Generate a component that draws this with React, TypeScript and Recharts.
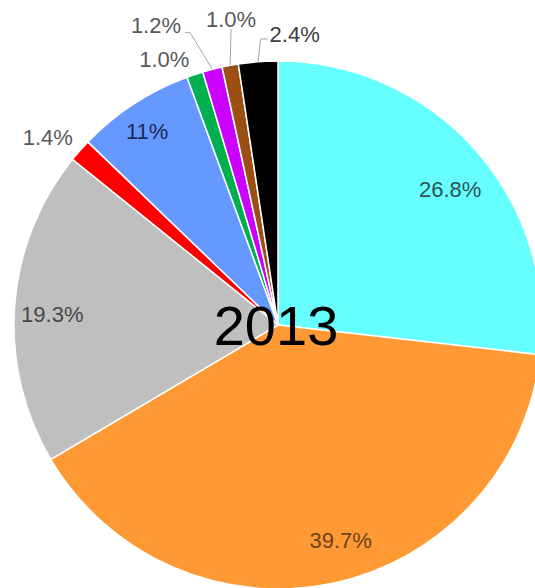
import { Pie, PieChart, Cell } from "recharts";

const SLICE_NAMES = ["Cyan", "Orange", "Grey", "Red", "Blue", "Green", "Magenta", "Brown", "Black"];
const SLICE_VALUES = [26.8, 39.7, 19.3, 1.4, 7.2, 1.0, 1.2, 1.0, 2.4];
const SLICE_LABELS = ["26.8%", "39.7%", "19.3%", "1.4%", "11%", "1.0%", "1.2%", "1.0%", "2.4%"];
const YEAR_LABEL = "2013";

const COLORS = ["#66FFFF", "#FF9933", "#BFBFBF", "#FF0000", "#6699FF", "#00B050", "#CC00FF", "#9C4F12", "#000000"];
const LABEL_COLORS = ["#2d5257", "#6a4420", "#474747", "#595959", "#1d2b55", "#595959", "#595959", "#595959", "#404040"];

// label placement: radius from centre, angle shift from the slice middle, optional leader elbows (relative to text centre)
const LABEL_LAYOUT: { r: number; shift: number; leader?: [number, number][] }[] = [
  { r: 219, shift: -3.6 },
  { r: 224, shift: 4.2 },
  { r: 226, shift: 1.4 },
  { r: 297, shift: 2.2 },
  { r: 234, shift: 0.9 },
  { r: 289, shift: 4.8 },
  { r: 323, shift: 7.8, leader: [[34, 6.5], [29, 6.5]] },
  { r: 309, shift: -1.7, leader: [[0, 9.5]] },
  { r: 291, shift: -7.6, leader: [[-34, 4.5], [-27, 4.5]] },
];

const FONT = "'Liberation Sans', Arial, sans-serif";
const RAD = Math.PI / 180;

const data = SLICE_NAMES.map((name, i) => ({ name, value: SLICE_VALUES[i] }));

const renderLabel = (props: any) => {
  const { cx, cy, midAngle, outerRadius, index } = props;
  const layout = LABEL_LAYOUT[index];
  const a = (midAngle + layout.shift) * RAD;
  const tx = cx + layout.r * Math.cos(a);
  const ty = cy - layout.r * Math.sin(a);
  let path = "";
  if (layout.leader) {
    const ex = cx + outerRadius * Math.cos(midAngle * RAD);
    const ey = cy - outerRadius * Math.sin(midAngle * RAD);
    path = `M${ex},${ey}` + layout.leader.map(([dx, dy]) => ` L${tx + dx},${ty + dy}`).join("");
  }
  return (
    <g key={`lbl-${index}`}>
      {path && <path d={path} stroke="#A6A6A6" strokeWidth={1} fill="none" />}
      <text
        x={tx}
        y={ty}
        textAnchor="middle"
        dominantBaseline="central"
        fontSize={22}
        fontFamily={FONT}
        fill={LABEL_COLORS[index]}
      >
        {SLICE_LABELS[index]}
      </text>
      {/* the year sits on the pie centre; drawn once with the last label so it stays on top */}
      {index === SLICE_VALUES.length - 1 && (
        <text
          x={cx - 2}
          y={cy}
          textAnchor="middle"
          dominantBaseline="central"
          fontSize={56}
          fontFamily={FONT}
          fill="#000"
        >
          {YEAR_LABEL}
        </text>
      )}
    </g>
  );
};

export default function App() {
  return (
    <div style={{ position: "absolute", left: 0, top: 0, width: 535, height: 588, background: "#fff" }}>
      <PieChart width={535} height={588} margin={{ top: 0, right: 0, bottom: 0, left: 0 }}>
        <Pie
          data={data}
          dataKey="value"
          nameKey="name"
          cx={278}
          cy={325}
          outerRadius={264}
          startAngle={90}
          endAngle={-270}
          stroke="#fff"
          strokeWidth={1.5}
          labelLine={false}
          label={renderLabel}
          isAnimationActive={false}
        >
          {data.map((d, i) => (
            <Cell key={d.name} fill={COLORS[i]} />
          ))}
        </Pie>
      </PieChart>
    </div>
  );
}
